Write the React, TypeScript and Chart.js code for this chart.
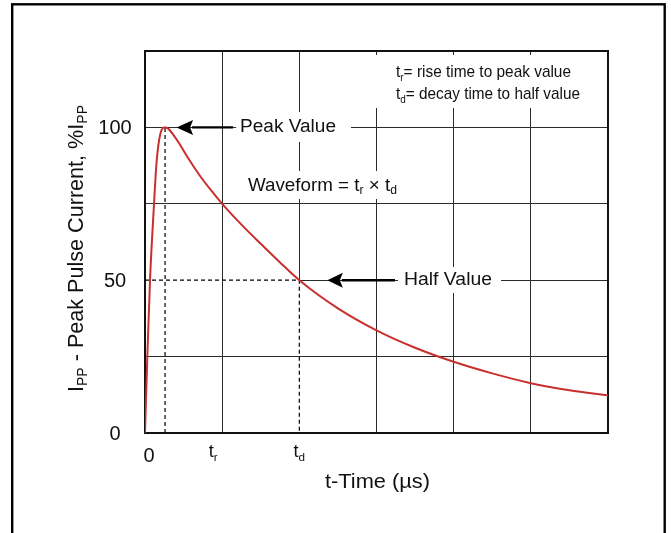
import React, { useEffect, useRef } from 'react';
import { Chart, registerables } from 'chart.js';

Chart.register(...registerables);

// ---- data ----
const timeValues = [0, 0.03, 0.065, 0.117, 0.15, 0.2, 0.26, 0.3, 0.37, 0.45, 0.55, 0.7, 0.85, 1.0, 1.25, 1.5, 1.75, 2.0, 2.5, 3.0, 3.5, 4.0, 4.5, 5.0, 5.5, 6.0];
const currentValues = [0, 25, 50, 75, 88.6, 98, 100, 99.6, 97.5, 94.5, 90.3, 84.6, 79.6, 75, 68.2, 61.9, 55.8, 50, 40.8, 33.6, 27.9, 23.3, 19.5, 16.3, 14.0, 12.3];
const peakTime = 0.26;
const peakValue = 100;
const halfTime = 2;
const halfValue = 50;
const xMin = 0;
const xMax = 6;
const yMin = 0;
const yMax = 125;
const yTickValues = [0, 50, 100];
const yTickLabels = ['0', '50', '100'];
const xTickValues = [0, 1, 2];
const xTickLabels: [string, string][] = [['0', ''], ['t', 'r'], ['t', 'd']];

type Run = [string, boolean];
const FONT = '"Liberation Sans", Arial, Helvetica, sans-serif';
const TEXT = '#111111';
const GRID = '#2b2b2b';

function drawRuns(
  ctx: CanvasRenderingContext2D,
  runs: Run[],
  x: number,
  y: number,
  size: number,
  align: 'left' | 'center' | 'right',
  targetWidth?: number,
  angle?: number
) {
  ctx.save();
  let w = 0;
  for (const [t, s] of runs) {
    ctx.font = `${s ? size * 0.65 : size}px ${FONT}`;
    w += ctx.measureText(t).width;
  }
  const sx = targetWidth ? targetWidth / w : 1;
  ctx.translate(x, y);
  if (angle) ctx.rotate(angle);
  ctx.scale(sx, 1);
  let cx = align === 'left' ? 0 : align === 'center' ? -w / 2 : -w;
  ctx.textBaseline = 'alphabetic';
  ctx.textAlign = 'left';
  ctx.fillStyle = TEXT;
  for (const [t, s] of runs) {
    ctx.font = `${s ? size * 0.65 : size}px ${FONT}`;
    ctx.fillText(t, cx, s ? size * 0.2 : 0);
    cx += ctx.measureText(t).width;
  }
  ctx.restore();
}

function drawArrow(ctx: CanvasRenderingContext2D, tipX: number, y: number, baseX: number, endX: number) {
  ctx.save();
  ctx.strokeStyle = '#000';
  ctx.fillStyle = '#000';
  ctx.lineWidth = 2.4;
  ctx.beginPath();
  ctx.moveTo(baseX - 1, y);
  ctx.lineTo(endX, y);
  ctx.stroke();
  ctx.beginPath();
  ctx.moveTo(tipX, y);
  ctx.lineTo(baseX, y - 7.5);
  ctx.lineTo(baseX - 3, y);
  ctx.lineTo(baseX, y + 7.5);
  ctx.closePath();
  ctx.fill();
  ctx.restore();
}

const decorPlugin = {
  id: 'decor',
  beforeDraw(chart: any) {
    const ctx: CanvasRenderingContext2D = chart.ctx;
    ctx.save();
    ctx.fillStyle = '#ffffff';
    ctx.fillRect(0, 0, chart.width, chart.height);
    ctx.strokeStyle = '#000';
    ctx.lineWidth = 2.4;
    ctx.strokeRect(12.2, 4.3, 652.5, 620);
    ctx.restore();
  },
  beforeDatasetsDraw(chart: any) {
    const ctx: CanvasRenderingContext2D = chart.ctx;
    const xs = chart.scales.x;
    const ys = chart.scales.y;
    const area = chart.chartArea;
    ctx.save();
    // partial grid lines (left/lower parts are replaced by dashed guides)
    ctx.strokeStyle = GRID;
    ctx.lineWidth = 1;
    const yHalf = Math.round(ys.getPixelForValue(halfValue)) + 0.5;
    const xHalf = Math.round(xs.getPixelForValue(halfTime)) + 0.5;
    ctx.beginPath();
    ctx.moveTo(xs.getPixelForValue(halfTime), yHalf);
    ctx.lineTo(area.right, yHalf);
    ctx.moveTo(xHalf, ys.getPixelForValue(halfValue));
    ctx.lineTo(xHalf, area.top);
    ctx.stroke();
    // white backgrounds behind the annotations
    ctx.fillStyle = '#ffffff';
    ctx.fillRect(236, 112, 115, 30);
    ctx.fillRect(244, 171, 157, 28);
    ctx.fillRect(370, 55, 220, 53);
    ctx.fillRect(398, 267, 103, 26);
    // plot frame
    ctx.strokeStyle = '#111';
    ctx.lineWidth = 2;
    ctx.strokeRect(area.left, area.top, area.right - area.left, area.bottom - area.top);
    ctx.restore();
  },
  afterDatasetsDraw(chart: any) {
    const ctx: CanvasRenderingContext2D = chart.ctx;
    const xs = chart.scales.x;
    const ys = chart.scales.y;
    // y tick labels
    yTickValues.forEach((v, i) => {
      drawRuns(ctx, [[yTickLabels[i], false]], 115, ys.getPixelForValue(v) + 7, 20, 'center');
    });
    // x tick labels
    xTickValues.forEach((v, i) => {
      const [main, sub] = xTickLabels[i];
      const px = xs.getPixelForValue(v);
      if (!sub) {
        drawRuns(ctx, [[main, false]], px + 4, 462, 20, 'center');
      } else {
        const nudge = i === 1 ? -9 : 0;
        drawRuns(ctx, [[main, false], [sub, true]], px + nudge, 457, 18, 'center');
      }
    });
    // axis titles
    drawRuns(ctx, [['t-Time (µs)', false]], 377.5, 488, 20, 'center', 105);
    drawRuns(
      ctx,
      [['I', false], ['PP', true], [' - Peak Pulse Current, %I', false], ['PP', true]],
      83,
      248.5,
      21.5,
      'center',
      287,
      -Math.PI / 2
    );
    // annotations
    const yPeak = ys.getPixelForValue(peakValue);
    const yHalfPx = ys.getPixelForValue(halfValue);
    const xPeak = xs.getPixelForValue(peakTime);
    const xHalfPx = xs.getPixelForValue(halfTime);
    drawArrow(ctx, xPeak + 11.5, yPeak, xPeak + 28, 233);
    drawRuns(ctx, [['Peak Value', false]], 240, 132, 18, 'left', 96);
    drawRuns(ctx, [['Waveform = t', false], ['r', true], [' × t', false], ['d', true]], 248, 190.5, 18.5, 'left', 149);
    drawRuns(ctx, [['t', false], ['r', true], ['= rise time to peak value', false]], 396, 77.3, 17, 'left', 175);
    drawRuns(ctx, [['t', false], ['d', true], ['= decay time to half value', false]], 396, 99.3, 17, 'left', 184);
    drawArrow(ctx, xHalfPx + 28, yHalfPx, xHalfPx + 43.5, 395);
    drawRuns(ctx, [['Half Value', false]], 404, 285, 17.5, 'left', 88);
  },
};

export default function App() {
  const canvasRef = useRef<HTMLCanvasElement | null>(null);

  useEffect(() => {
    const canvas = canvasRef.current;
    if (!canvas) return;
    const curve = timeValues.map((t, i) => ({ x: t, y: currentValues[i] }));
    const chart = new Chart(canvas, {
      type: 'line',
      data: {
        datasets: [
          {
            data: curve,
            borderColor: '#c8302e',
            borderWidth: 2,
            pointRadius: 0,
            cubicInterpolationMode: 'monotone',
            fill: false,
            order: 0,
          },
          {
            data: [
              { x: peakTime, y: 0 },
              { x: peakTime, y: peakValue },
            ],
            borderColor: '#000000',
            borderWidth: 1.2,
            borderDash: [4, 3],
            pointRadius: 0,
            fill: false,
            order: 1,
          },
          {
            data: [
              { x: xMin, y: halfValue },
              { x: halfTime, y: halfValue },
              { x: halfTime, y: 0 },
            ],
            borderColor: '#000000',
            borderWidth: 1.2,
            borderDash: [4, 3],
            pointRadius: 0,
            fill: false,
            order: 1,
          },
        ],
      } as any,
      options: {
        animation: false,
        responsive: false,
        devicePixelRatio: 1,
        layout: { padding: { left: 145, top: 51, right: 63, bottom: 100 } },
        plugins: { legend: { display: false }, tooltip: { enabled: false } },
        events: [],
        scales: {
          x: {
            type: 'linear',
            min: xMin,
            max: xMax,
            ticks: { display: false, stepSize: 1 },
            grid: {
              color: (c: any) => (c.tick && c.tick.value === halfTime ? 'rgba(0,0,0,0)' : GRID),
              lineWidth: 1,
              drawTicks: false,
            },
            border: { display: false },
            afterFit: (s: any) => {
              s.height = 0;
            },
          },
          y: {
            type: 'linear',
            min: yMin,
            max: yMax,
            ticks: { display: false, stepSize: 25 },
            grid: {
              color: (c: any) => (c.tick && c.tick.value === halfValue ? 'rgba(0,0,0,0)' : GRID),
              lineWidth: 1,
              drawTicks: false,
            },
            border: { display: false },
            afterFit: (s: any) => {
              s.width = 0;
            },
          },
        },
      } as any,
      plugins: [decorPlugin],
    });
    return () => chart.destroy();
  }, []);

  return (
    <div style={{ position: 'fixed', left: 0, top: 0, width: 671, height: 533 }}>
      <canvas ref={canvasRef} width={671} height={533} style={{ display: 'block' }} />
    </div>
  );
}
